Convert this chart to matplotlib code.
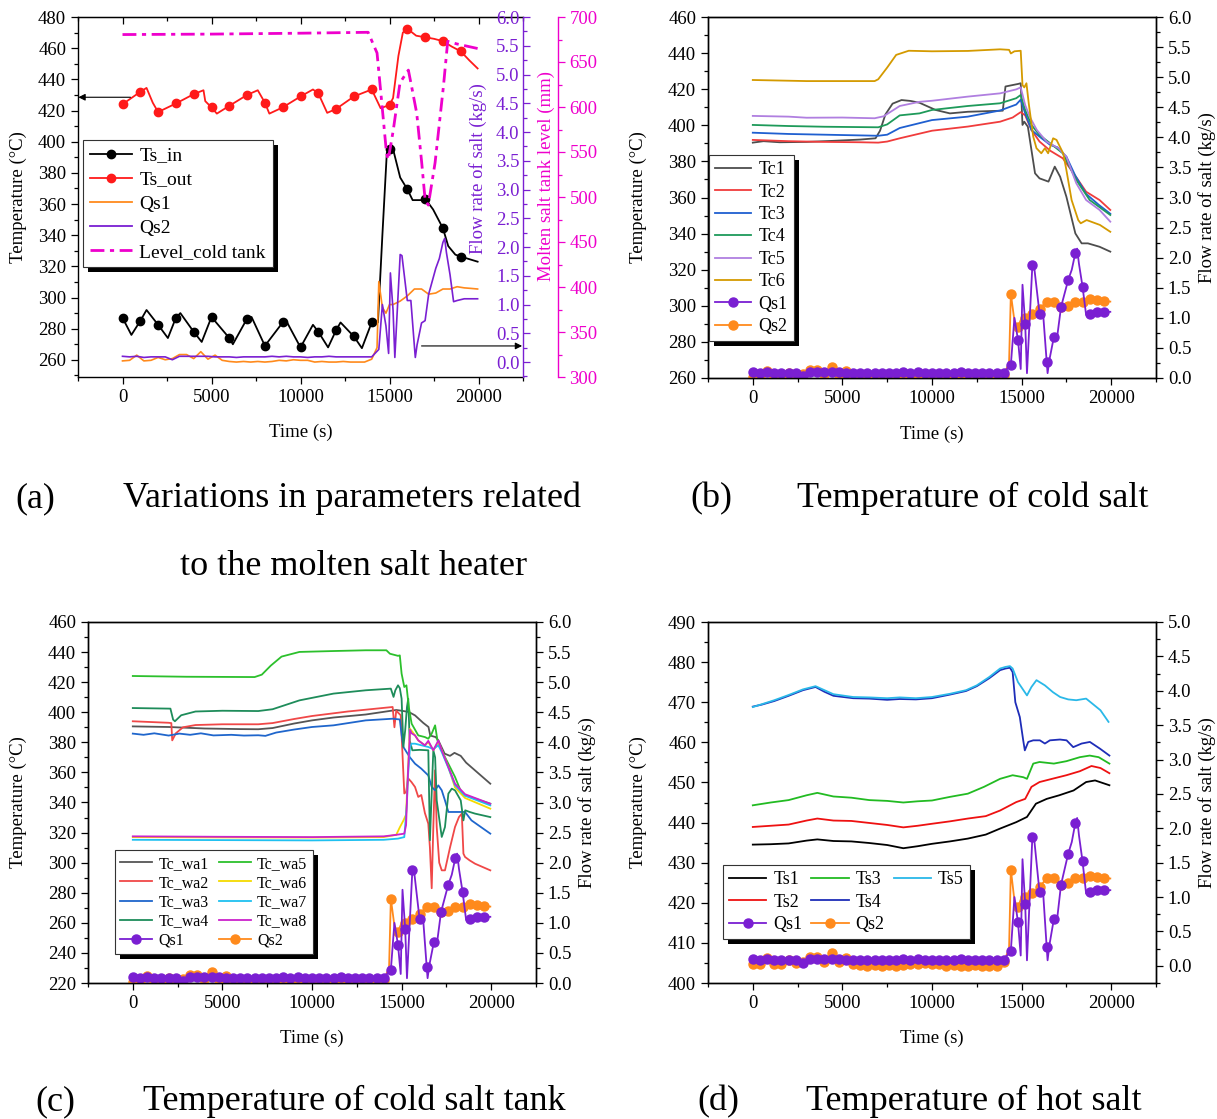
import matplotlib
matplotlib.use('Agg')
import matplotlib.pyplot as plt
from matplotlib.ticker import MultipleLocator, FormatStrFormatter
from matplotlib.lines import Line2D
from matplotlib.patches import Rectangle
from matplotlib.transforms import IdentityTransform

plt.rcParams['font.family'] = 'serif'
plt.rcParams['font.serif'] = ['Liberation Serif', 'DejaVu Serif']

# ---------------- data ----------------
# flow rates (shared by all four panels), markers every 400 s
qs1_t = [0, 400, 800, 1200, 1600, 2000, 2400, 2800, 3200, 3600, 4000, 4400, 4800, 5200, 5600, 6000,
         6400, 6800, 7200, 7600, 8000, 8400, 8800, 9200, 9600, 10000, 10400, 10800, 11200, 11600,
         12000, 12400, 12800, 13200, 13600, 14000,
         14400, 14600, 14800, 14950, 15050, 15200, 15300, 15600, 15700, 16000, 16200, 16400, 16450,
         16550, 16800, 17000, 17200, 17600, 17800, 18000, 18100, 18200, 18400, 18600, 18800, 19200,
         19600, 19950]
qs1 = [0.10, 0.09, 0.10, 0.08, 0.09, 0.09, 0.09, 0.04, 0.10, 0.10, 0.10, 0.10, 0.10, 0.09, 0.09, 0.09,
       0.08, 0.09, 0.09, 0.09, 0.09, 0.10, 0.09, 0.10, 0.09, 0.09, 0.08, 0.09, 0.09, 0.10,
       0.09, 0.09, 0.09, 0.09, 0.09, 0.09,
       0.22, 1.00, 0.63, 0.15, 1.55, 0.90, 0.08, 1.87, 1.85, 1.07, 1.07, 0.27, 0.08,
       0.30, 0.68, 0.72, 1.18, 1.63, 1.80, 2.08, 2.15, 1.90, 1.52, 1.05, 1.07, 1.10,
       1.10, 1.10]
qs2_t = [0, 400, 800, 1200, 1600, 2000, 2400, 2800, 3200, 3600, 4000, 4400, 4800, 5200, 5600, 6000,
         6400, 6800, 7200, 7600, 8000, 8400, 8800, 9200, 9600, 10000, 10400, 10800, 11200, 11600,
         12000, 12400, 12800, 13200, 13600, 14000,
         14300, 14400, 14600, 14800, 15000, 15200, 15600, 16000, 16400, 16800, 17200, 17600, 18000,
         18400, 18800, 19200, 19600, 19950]
qs2 = [0.02, 0.03, 0.12, 0.02, 0.03, 0.08, 0.04, 0.06, 0.13, 0.13, 0.06, 0.18, 0.05, 0.12, 0.03, 0.01,
       0.00, 0.01, 0.00, 0.01, 0.00, 0.01, 0.03, 0.02, 0.04, 0.03, 0.03, 0.00, 0.01, 0.00,
       0.00, 0.01, 0.00, 0.00, 0.00, 0.05,
       0.25, 1.40, 0.95, 0.85, 1.00, 1.00, 1.06, 1.15, 1.27, 1.27, 1.18, 1.20, 1.27,
       1.27, 1.31, 1.29, 1.28, 1.27]

# (a) heater
ts_in_t = [0, 500, 1000, 1350, 2000, 2550, 3000, 3250, 4000, 4450, 5000, 6000, 6200, 7000, 7250,
           8000, 9000, 9200, 10000, 10700, 11000, 11550, 12000, 12250, 13000, 13450, 14000, 14350,
           14600, 14850, 15000, 15150, 15600, 16000, 16300, 16800, 17000, 17450, 18000, 18300,
           18700, 19000, 19950]
ts_in = [287, 276, 285, 292, 282.5, 274, 287, 290, 278, 271.5, 287.5, 274, 270, 286.5, 287.5,
         269, 284, 285, 268, 282.5, 278, 268, 279, 284, 275, 267.5, 284, 284,
         340, 393, 395, 397.5, 377, 369.5, 362.5, 362.5, 363.5, 356.5, 344.5, 333,
         327.5, 326.3, 323]
ts_out_t = [0, 1000, 1350, 1700, 2000, 3000, 4000, 4550, 4650, 5000, 5300, 6000, 7000, 7600, 8000,
            8250, 9000, 10000, 10700, 11000, 11500, 12000, 13000, 14000, 14500, 15000, 15200,
            15500, 15750, 16000, 16500, 17000, 17500, 18000, 18500, 19000, 19500, 19950]
ts_out = [424, 432, 434.5, 425, 419, 424.5, 430.5, 433, 426, 422, 418, 423, 430, 433, 425,
          418, 422, 429, 433.5, 431, 418.5, 421, 429, 433.5, 421.5, 423.5, 428,
          455, 470, 472.5, 468, 467, 466, 464.5, 461, 458, 452, 447]
level_t = [0, 5000, 10000, 13800, 14300, 14550, 14830, 14930, 15210, 15590, 16060, 16240, 16530,
           16810, 17000, 17180, 17560, 18030, 18270, 18800, 19950]
level = [680.5, 681, 682, 683, 660, 608, 549, 541.5, 574, 627, 641, 623, 593,
         538, 497, 491, 538, 623, 673, 670, 665]

# (b) cold salt
tc1_t = [0, 600, 1500, 3000, 4500, 6000, 6850, 7100, 7400, 7800, 8300, 8800, 9300, 10200, 11000,
         12000, 13950, 14100, 14800, 14950, 15050, 15150, 15350, 15550, 15750, 16000, 16500,
         16850, 17150, 17500, 18000, 18350, 18700, 19350, 19950]
tc1 = [390.4, 391.2, 390.6, 390.8, 391.4, 392.1, 392.8, 397, 406, 412, 414, 413.5, 412.5, 408.5, 406.6,
       407.5, 408.1, 421.5, 422.9, 423.3, 400.2, 402, 399.2, 386.3, 373.4, 370.6, 368.8,
       377.1, 371.5, 360.4, 340.1, 334.6, 334.6, 332.7, 330]
tc2_t = [0, 2000, 4000, 6000, 7000, 7500, 8200, 10000, 12000, 13800, 14500, 14950, 15200, 15550,
         16000, 16600, 17300, 17900, 18600, 19350, 19950]
tc2 = [391.9, 391.2, 390.8, 390.6, 390.4, 391, 392.8, 397.0, 399.3, 402, 404.3, 407.3, 405.5, 397.4,
       391, 385.9, 381.7, 373.4, 363.2, 358.6, 353.1]
tc3_t = [0, 2000, 4000, 6000, 7000, 7500, 8200, 10000, 12000, 13800, 14700, 14950, 15200, 15550,
         16000, 16600, 17000, 17500, 18000, 18600, 19300, 19950]
tc3 = [395.9, 395.2, 394.8, 394.4, 394.2, 394.8, 398.5, 402.9, 404.8, 408.2, 411.5, 414.2, 406.6, 397.4,
       393.7, 389.1, 387.8, 382.6, 372, 362, 356, 351]
tc4_t = [0, 2000, 4000, 6000, 7000, 7500, 8200, 9300, 10000, 12000, 13800, 14700, 14950, 15200,
         15550, 16000, 16600, 17300, 18050, 18800, 19950]
tc4 = [400.2, 399.6, 399.2, 399.0, 398.9, 400.5, 405.5, 406.6, 408.5, 410.7, 412.2, 415, 416.8, 408.5,
       400.2, 394.6, 390, 384.5, 369.7, 358.6, 350.3]
tc5_t = [0, 2000, 3000, 5000, 6800, 7300, 8200, 9300, 10000, 12000, 13800, 14700, 14950, 15200,
         15450, 15850, 16400, 17050, 17500, 18050, 18600, 19350, 19950]
tc5 = [405.2, 404.8, 404.2, 404.3, 403.9, 405, 410.7, 413, 413.6, 415.9, 417.7, 419.9, 421, 411.2,
       404.8, 397.4, 390.9, 387.3, 382.6, 367.9, 358.6, 353.1, 346.6]
tc6_t = [0, 3000, 6800, 7000, 7500, 8000, 8700, 10000, 12000, 13800, 14300, 14400, 14600, 14950,
         15050, 15150, 15270, 15400, 15650, 15830, 16100, 16300, 16480, 16760, 16950, 17320,
         17500, 17790, 18160, 18300, 18630, 19370, 19950]
tc6 = [425.1, 424.5, 424.5, 425.5, 432, 439, 441.3, 441, 441.2, 442.1, 441.8, 439.8, 441, 441.3,
       422.3, 421, 423.3, 412, 393.7, 387.3, 384.5, 387.3, 384.5, 392.8, 391.9, 384.5,
       375.2, 358.6, 347.5, 345.7, 347.5, 344.8, 341]

# (c) cold salt tank
wa1_t = [0, 2000, 4000, 6000, 7000, 7800, 9000, 10000, 11200, 13000, 14700, 15000, 15400, 15750,
         16200, 16500, 16600, 16900, 17050, 17400, 17700, 17950, 18300, 18600, 19950]
wa1 = [390.6, 390.2, 389.2, 388.8, 388.7, 389.5, 392.5, 394.6, 396.5, 398.5, 401.5, 401, 400.2, 397.9,
       393, 390.2, 384.5, 383.5, 381.3, 372.5, 371, 373, 371, 366.5, 352.5]
wa2_t = [0, 2000, 2150, 2200, 2400, 2800, 3500, 5000, 7000, 7800, 9000, 10000, 12000, 14500, 14600,
         14700, 14950, 15050, 15150, 15250, 15370, 15550, 15750, 15930, 16100, 16300, 16490, 16580,
         16680, 16770, 16865, 16960, 17100, 17240, 17420, 17700, 17980, 18200, 18360, 18450, 18540,
         18800, 19100, 19950]
wa2 = [394, 393, 392.8, 381.3, 386, 390, 391.5, 392, 392, 392.8, 395.5, 397.5, 400.5, 403.5, 390,
       401, 398, 372, 346, 347, 356, 353.6, 350.3, 343.7, 345, 333, 325.9, 310,
       283, 323.7, 361.4, 323.7, 300, 294.9, 294.9, 310, 323.7, 330.3, 332.6, 306, 303.8,
       301.5, 299.3, 294.9]
wa3_t = [0, 600, 1200, 2000, 2600, 3200, 3800, 4500, 5500, 6200, 7000, 7400, 8000, 9000, 10000,
         11200, 13000, 14500, 14900, 15000, 15100, 15450, 15750, 16100, 16490, 16680, 16870, 17050,
         17240, 17420, 17610, 17980, 18540, 18900, 19950]
wa3 = [385.8, 385, 386, 384.5, 385.8, 385, 386, 384.6, 385, 384.5, 384.7, 384.3, 386.5, 388.5, 390.2,
       391.3, 394.6, 395.7, 395.2, 385, 376.9, 370.2, 365.8, 362.5, 358, 350.3, 348.1, 351.4,
       348.1, 341.4, 333.7, 333.7, 333.7, 328.1, 319.3]
wa4_t = [0, 2100, 2250, 2350, 2700, 3500, 5000, 7000, 7800, 9300, 11200, 13000, 14400, 14550, 14650,
         14800, 14900, 15000, 15100, 15200, 15300, 15370, 15450, 15600, 16000, 16490, 16580, 16770,
         16870, 16960, 17240, 17420, 17610, 17800, 17980, 18300, 18450, 18550, 18800, 19100, 19950]
wa4 = [402.8, 402.4, 395.1, 394, 398, 400.5, 401, 400.8, 402, 407.9, 412.4, 414.6, 415.7, 410.2, 414.6,
       417.9, 416, 409, 377, 388, 403.5, 409, 381.3, 374.7, 375, 374.7, 314.9, 374.7,
       370, 341.4, 317.1, 323.7, 345.9, 349.2, 348.1, 341.4, 328.1, 334.8, 333.7, 332.6, 330.3]
wa5_t = [0, 3000, 6800, 7200, 7700, 8300, 9300, 11200, 13000, 14150, 14350, 14800, 14900, 15000,
         15150, 15270, 15400, 15560, 15930, 16300, 16490, 16680, 16870, 17000, 17420, 17980, 18360,
         18540, 19950]
wa5 = [424.1, 423.6, 423.4, 425, 431, 437, 440.1, 440.7, 441.2, 441.2, 438.9, 437.5, 437.8, 425.7,
       416.8, 417.9, 403.5, 392.4, 384.6, 383.5, 382.4, 385.8, 391.3, 381.3, 370.2, 357, 345.9,
       344.8, 339.2]
wa6_t = [0, 5000, 10000, 14000, 14700, 14900, 15100, 15250, 15350, 15470, 15600, 15750, 15930,
         16300, 16490, 16770, 17050, 17240, 17610, 17980, 18540, 19950]
wa6 = [317, 316.8, 316.7, 317, 318.5, 323.5, 328, 332, 360, 389, 387, 384.6, 381.3,
       378, 380.2, 374.7, 380.2, 374.7, 363.6, 350, 343, 335.9]
wa7_t = [0, 5000, 10000, 14000, 14800, 15150, 15300, 15340, 15470, 15560, 15750, 16120, 16490,
         16770, 17050, 17240, 17610, 17980, 18540, 19950]
wa7 = [315.2, 315.0, 314.8, 315.2, 316, 317, 340, 354.7, 377, 379.1, 379.1, 378, 376.9,
       375.5, 378, 373.5, 363, 351.5, 344.5, 338.1]
wa8_t = [0, 5000, 10000, 14000, 14700, 15150, 15250, 15350, 15470, 15560, 15750, 15930, 16300,
         16490, 16770, 17050, 17240, 17610, 17980, 18540, 19950]
wa8 = [317.5, 317.2, 317.0, 317.5, 318.5, 319.3, 325, 358, 388.4, 386, 384.6, 381.3, 378,
       381, 374.7, 381.3, 374.7, 363.6, 352.5, 345.5, 339.2]

# (d) hot salt
ts1_t = [0, 1000, 2000, 3000, 3600, 4500, 5500, 6500, 7500, 8400, 9200, 10000, 11000, 12000, 13000,
         13800, 14700, 15300, 15800, 16400, 17100, 17900, 18600, 19100, 19900]
ts1 = [434.5, 434.6, 434.8, 435.5, 435.8, 435.4, 435.3, 434.9, 434.4, 433.6, 434.1, 434.7, 435.3, 436.0,
       437.0, 438.5, 440.1, 441.4, 444.7, 445.9, 446.8, 448.0, 450.1, 450.5, 449.3]
ts2_t = [0, 1000, 2000, 3000, 3600, 4500, 5500, 6500, 7500, 8400, 9200, 10000, 11000, 12000, 13000,
         13800, 14700, 15200, 15550, 16000, 16700, 17500, 18250, 18900, 19400, 19900]
ts2 = [438.9, 439.2, 439.5, 440.5, 441.0, 440.5, 440.4, 439.9, 439.4, 438.8, 439.2, 439.7, 440.3, 441.0,
       441.6, 443.0, 445.1, 445.9, 448.9, 450.1, 450.9, 451.8, 452.8, 454.1, 453.6, 452.3]
ts3_t = [0, 1000, 2000, 3000, 3600, 4500, 5500, 6500, 7500, 8400, 9200, 10000, 11000, 12000, 12900,
         13800, 14500, 15100, 15300, 15650, 16000, 16800, 17500, 18250, 18800, 19300, 19900]
ts3 = [444.3, 445.0, 445.6, 446.8, 447.4, 446.5, 446.2, 445.6, 445.4, 445.0, 445.3, 445.5, 446.4, 447.2,
       448.9, 450.9, 451.8, 451.3, 450.9, 454.7, 455.1, 454.7, 455.3, 456.3, 456.7, 456.3, 454.7]
ts4_t = [0, 500, 1200, 2000, 2800, 3500, 4000, 4500, 5600, 6500, 7500, 8200, 9100, 10000, 11000,
         11900, 12500, 13200, 13800, 14100, 14350, 14500, 14650, 14900, 15090, 15180, 15370, 15650,
         16020, 16300, 16580, 17140, 17510, 17880, 18350, 18810, 19380, 19900]
ts4 = [468.9, 469.4, 470.3, 471.6, 473.0, 473.8, 472.6, 471.6, 471.0, 470.9, 470.6, 470.8, 470.7, 471.0,
       471.9, 472.8, 474.0, 476.0, 478.0, 478.4, 478.6, 477.5, 470, 466.3, 460.5, 458.0, 460.1, 460.5,
       460.5, 459.7, 460.5, 460.7, 460.5, 458.8, 459.7, 460.1, 458.4, 456.7]
ts5_t = [0, 500, 1200, 2000, 2800, 3500, 4000, 4500, 5600, 6500, 7500, 8200, 9100, 10000, 11000,
         11900, 12500, 13200, 13800, 14100, 14350, 14500, 14800, 15300, 15550, 15830, 16300, 16750,
         17150, 17600, 18050, 18600, 18850, 19400, 19850]
ts5 = [468.8, 469.5, 470.5, 471.8, 473.2, 474.0, 473.0, 472.0, 471.3, 471.2, 471.0, 471.2, 471.0, 471.3,
       472.1, 473.0, 474.2, 476.3, 478.4, 478.8, 479.0, 478.4, 475.0, 471.7, 473.8, 475.5, 474.2, 472.5,
       471.3, 470.7, 470.5, 470.9, 470.0, 468.0, 465.1]

# ---------------- figure ----------------
W, H = 1217, 1119
PURPLE = '#7A1FD2'
ORANGE = '#FF8A1C'
MAGENTA = '#EE00CC'
TICK = 13.5
LAB = 13.5

fig = plt.figure(figsize=(W / 100, H / 100), dpi=100)


def box(l, t, r, b):
    return [l / W, 1 - b / H, (r - l) / W, (b - t) / H]


def every(ts, step):
    return [i for i, t in enumerate(ts) if t % step == 0]


def style(ax):
    for s in ax.spines.values():
        s.set_linewidth(1.0)
    ax.tick_params(which='both', direction='out', labelsize=TICK, width=0.9)
    ax.tick_params(which='major', length=5)
    ax.tick_params(which='minor', length=3)


def time_axis(ax, label_y):
    ax.set_xlim(-2500, 22500)
    ax.xaxis.set_major_locator(MultipleLocator(5000))
    ax.xaxis.set_minor_locator(MultipleLocator(2500))
    ax.set_xlabel('Time (s)', fontsize=LAB)
    ax.xaxis.set_label_coords(0.5, label_y)


def temp_axis(ax, lo, hi, step, label_x):
    ax.set_ylim(lo, hi)
    ax.yaxis.set_major_locator(MultipleLocator(step))
    ax.yaxis.set_minor_locator(MultipleLocator(step / 2))
    ax.set_ylabel('Temperature (°C)', fontsize=LAB)
    ax.yaxis.set_label_coords(label_x, 0.5)


def flow_axis(tw, lo, hi, label_x, label_y=0.5):
    tw.set_ylim(lo, hi)
    tw.yaxis.set_major_locator(MultipleLocator(0.5))
    tw.yaxis.set_minor_locator(MultipleLocator(0.25))
    tw.yaxis.set_major_formatter(FormatStrFormatter('%.1f'))
    tw.set_ylabel('Flow rate of salt (kg/s)', fontsize=LAB)
    tw.yaxis.set_label_coords(label_x, label_y)


def plot_qs(tw):
    tw.plot(qs2_t, qs2, color=ORANGE, lw=1.3, marker='o', ms=6.5, markevery=every(qs2_t, 400))
    tw.plot(qs1_t, qs1, color=PURPLE, lw=1.3, marker='o', ms=6.5, markevery=every(qs1_t, 400))


def qs_handles():
    return [Line2D([], [], color=PURPLE, lw=1.3, marker='o', ms=6.5),
            Line2D([], [], color=ORANGE, lw=1.3, marker='o', ms=6.5)]


def make_legend(ax, handles, labels, anchor, size, **kw):
    leg = ax.legend(handles, labels, loc='upper left', bbox_to_anchor=anchor, borderaxespad=0,
                    fontsize=size, fancybox=False, edgecolor='#333333', framealpha=1,
                    handletextpad=0.4, borderpad=0.35, **kw)
    leg.get_frame().set_linewidth(0.8)
    return leg


# ---- (a) ----
ax_a = fig.add_axes(box(78, 17, 523, 377))
style(ax_a)
time_axis(ax_a, -0.131)
temp_axis(ax_a, 249, 480, 20, -0.115)
ax_a.spines['right'].set_visible(False)
ax_a.plot(ts_in_t, ts_in, color='k', lw=1.3, marker='o', ms=6, markevery=every(ts_in_t, 1000))
ax_a.plot(ts_out_t, ts_out, color='#FF1A1A', lw=1.3, marker='o', ms=6, markevery=every(ts_out_t, 1000))
sec = ax_a.secondary_xaxis('top')
sec.xaxis.set_major_locator(MultipleLocator(5000))
sec.xaxis.set_minor_locator(MultipleLocator(2500))
sec.tick_params(which='both', direction='in', labeltop=False, width=0.9)
sec.tick_params(which='major', length=5)
sec.tick_params(which='minor', length=3)
ax_a.annotate('', xy=(-2480, 428.5), xytext=(450, 428.5), annotation_clip=False,
              arrowprops=dict(arrowstyle='-|>', color='k', lw=0.8, shrinkA=0, shrinkB=0))

tw_a1 = ax_a.twinx()
style(tw_a1)
for s in ('left', 'top', 'bottom'):
    tw_a1.spines[s].set_visible(False)
tw_a1.spines['right'].set_color(PURPLE)
flow_axis(tw_a1, -0.26, 6.0, 0.879, 0.58)
tw_a1.yaxis.label.set_color(PURPLE)
tw_a1.tick_params(axis='y', which='both', colors=PURPLE)
tw_a1.tick_params(axis='y', which='major', pad=-7.5)
for tk in tw_a1.yaxis.get_major_ticks():
    tk.label2.set_horizontalalignment('right')
tw_a1.plot(qs2_t, qs2, color=ORANGE, lw=1.2)
tw_a1.plot(qs1_t, qs1, color=PURPLE, lw=1.2)
tw_a1.annotate('', xy=(22450, 0.28), xytext=(16800, 0.28), annotation_clip=False,
               arrowprops=dict(arrowstyle='-|>', color='k', lw=0.8, shrinkA=0, shrinkB=0))

tw_a2 = ax_a.twinx()
style(tw_a2)
for s in ('left', 'top', 'bottom'):
    tw_a2.spines[s].set_visible(False)
tw_a2.spines['right'].set_position(('outward', 25))
tw_a2.spines['right'].set_color(MAGENTA)
tw_a2.set_ylim(300, 700)
tw_a2.yaxis.set_major_locator(MultipleLocator(50))
tw_a2.yaxis.set_minor_locator(MultipleLocator(25))
tw_a2.tick_params(axis='y', which='both', colors=MAGENTA)
tw_a2.set_ylabel('Molten salt tank level (mm)', fontsize=LAB, color=MAGENTA)
tw_a2.yaxis.set_label_coords(1.032, 0.558)
tw_a2.plot(level_t, level, color=MAGENTA, lw=2, linestyle=(0, (5, 2, 1.5, 2)))

leg_a = make_legend(
    tw_a2,
    [Line2D([], [], color='k', lw=1.3, marker='o', ms=6),
     Line2D([], [], color='#FF1A1A', lw=1.3, marker='o', ms=6),
     Line2D([], [], color=ORANGE, lw=1.3),
     Line2D([], [], color=PURPLE, lw=1.3),
     Line2D([], [], color=MAGENTA, lw=2, linestyle=(0, (5, 2, 1.5, 2)))],
    ['Ts_in', 'Ts_out', 'Qs1', 'Qs2', 'Level_cold tank'],
    (0.011, 0.658), 14, handlelength=2.15, labelspacing=0.33)

# ---- (b) ----
ax_b = fig.add_axes(box(708, 17, 1156, 378))
style(ax_b)
time_axis(ax_b, -0.133)
temp_axis(ax_b, 260, 460, 20, -0.137)
tc_series = [(tc1_t, tc1, '#4D4D4D', 'Tc1'), (tc2_t, tc2, '#F03C3C', 'Tc2'),
             (tc3_t, tc3, '#1F5FD0', 'Tc3'), (tc4_t, tc4, '#1E9A5A', 'Tc4'),
             (tc5_t, tc5, '#B07FE0', 'Tc5'), (tc6_t, tc6, '#D49A00', 'Tc6')]
for t, v, c, lab in tc_series:
    ax_b.plot(t, v, color=c, lw=1.3)
tw_b = ax_b.twinx()
style(tw_b)
flow_axis(tw_b, 0, 6.0, 1.094)
plot_qs(tw_b)
leg_b = make_legend(tw_b, [Line2D([], [], color=c, lw=1.3) for _, _, c, _ in tc_series] + qs_handles(),
                    [lab for _, _, _, lab in tc_series] + ['Qs1', 'Qs2'],
                    (0.002, 0.618), 13, handlelength=2.0, labelspacing=0.3)

# ---- (c) ----
ax_c = fig.add_axes(box(88, 622, 536, 983))
style(ax_c)
time_axis(ax_c, -0.130)
temp_axis(ax_c, 220, 460, 20, -0.137)
wa_series = [(wa1_t, wa1, '#555555', 'Tc_wa1'), (wa2_t, wa2, '#F04848', 'Tc_wa2'),
             (wa3_t, wa3, '#1F66CC', 'Tc_wa3'), (wa4_t, wa4, '#1E8C5A', 'Tc_wa4'),
             (wa5_t, wa5, '#2CC02C', 'Tc_wa5'), (wa6_t, wa6, '#F5DA00', 'Tc_wa6'),
             (wa7_t, wa7, '#1FC0F0', 'Tc_wa7'), (wa8_t, wa8, '#CC22CC', 'Tc_wa8')]
for t, v, c, lab in wa_series:
    ax_c.plot(t, v, color=c, lw=1.3)
tw_c = ax_c.twinx()
style(tw_c)
flow_axis(tw_c, 0, 6.0, 1.094)
plot_qs(tw_c)
wa_h = [Line2D([], [], color=c, lw=1.3) for _, _, c, _ in wa_series]
wa_l = [lab for _, _, _, lab in wa_series]
qh = qs_handles()
leg_c = make_legend(tw_c, wa_h[:4] + [qh[0]] + wa_h[4:] + [qh[1]],
                    wa_l[:4] + ['Qs1'] + wa_l[4:] + ['Qs2'],
                    (0.060, 0.368), 11.5, ncol=2, handlelength=2.0, labelspacing=0.2,
                    columnspacing=0.6)

# ---- (d) ----
ax_d = fig.add_axes(box(708, 622, 1156, 983))
style(ax_d)
time_axis(ax_d, -0.130)
temp_axis(ax_d, 400, 490, 10, -0.137)
ts_series = [(ts1_t, ts1, '#000000', 'Ts1'), (ts2_t, ts2, '#EE1111', 'Ts2'),
             (ts3_t, ts3, '#22BB22', 'Ts3'), (ts4_t, ts4, '#1E2DB8', 'Ts4'),
             (ts5_t, ts5, '#2AB8E8', 'Ts5')]
for t, v, c, lab in ts_series:
    ax_d.plot(t, v, color=c, lw=1.3)
tw_d = ax_d.twinx()
style(tw_d)
flow_axis(tw_d, -0.25, 5.0, 1.094)
plot_qs(tw_d)
th = {lab: Line2D([], [], color=c, lw=1.3) for _, _, c, lab in ts_series}
blank = Line2D([], [], alpha=0)
leg_d = make_legend(tw_d, [th['Ts1'], th['Ts2'], qh[0], th['Ts3'], th['Ts4'], qh[1], th['Ts5'], blank, blank],
                    ['Ts1', 'Ts2', 'Qs1', 'Ts3', 'Ts4', 'Qs2', 'Ts5', '', ''],
                    (0.033, 0.327), 13, ncol=3, handlelength=2.05, labelspacing=0.3,
                    columnspacing=0.5)

# ---- captions ----
CAP = 26
for x, y, s in [(15, 507, '(a)'), (123, 507, 'Variations in parameters related'),
                (180, 575, 'to the molten salt heater'),
                (690, 507, '(b)'), (797, 507, 'Temperature of cold salt'),
                (35, 1110, '(c)'), (143, 1110, 'Temperature of cold salt tank'),
                (697, 1110, '(d)'), (806, 1110, 'Temperature of hot salt')]:
    fig.text(x / W, 1 - y / H, s, fontsize=CAP, va='baseline', ha='left')

# black drop shadows behind the legends
fig.canvas.draw()
for ax, leg in [(tw_a2, leg_a), (tw_b, leg_b), (tw_c, leg_c), (tw_d, leg_d)]:
    bb = leg.get_frame().get_window_extent()
    ax.add_patch(Rectangle((bb.x0 + 5, bb.y0 - 5), bb.width, bb.height, transform=IdentityTransform(),
                           facecolor='k', edgecolor='none', zorder=4.9, clip_on=False))

fig.savefig('out.png', dpi=100)
